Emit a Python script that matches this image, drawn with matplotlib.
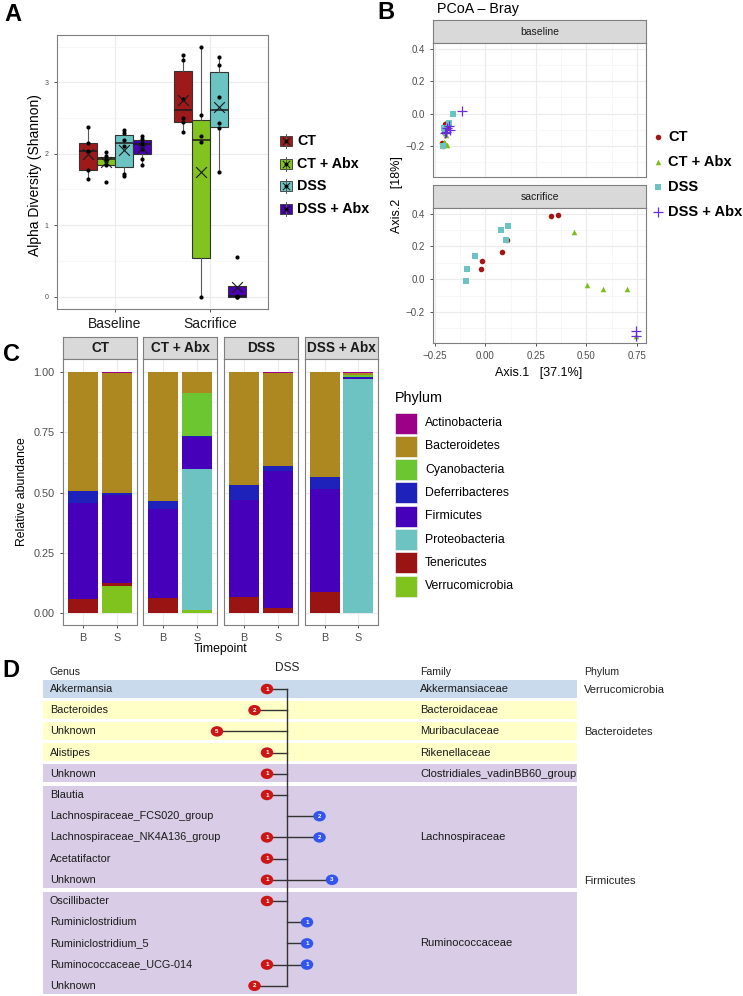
import numpy as np
import matplotlib
matplotlib.use('Agg')
import matplotlib.pyplot as plt
from matplotlib.patches import Rectangle, Ellipse

plt.rcParams['font.family'] = ['Liberation Sans', 'DejaVu Sans']

W, H = 743, 996

# ---------------- Panel A: alpha diversity ----------------
groups = ['CT', 'CT + Abx', 'DSS', 'DSS + Abx']
group_colors = ['#9E1A1A', '#82C31F', '#6CC4C2', '#4A00B4']
timepoints = ['Baseline', 'Sacrifice']
# [timepoint][group]
box_q1 = [[1.78, 1.85, 1.81, 2.00], [2.44, 0.54, 2.38, 0.00]]
box_med = [[2.04, 1.93, 2.15, 2.14], [2.61, 2.20, 2.62, 0.01]]
box_q3 = [[2.15, 1.96, 2.26, 2.19], [3.16, 2.48, 3.14, 0.145]]
box_lo = [[1.65, 1.83, 1.69, 1.85], [2.30, 0.00, 1.74, 0.00]]
box_hi = [[2.38, 2.02, 2.33, 2.25], [3.38, 3.49, 3.35, 0.145]]
box_mean = [[2.00, 1.88, 2.06, 2.08], [2.76, 1.74, 2.66, 0.14]]
shannon_pts = [
    [[2.38, 2.15, 2.04, 1.78, 1.65], [2.02, 1.97, 1.93, 1.90, 1.84, 1.60],
     [2.33, 2.29, 2.20, 2.11, 1.71, 1.69], [2.25, 2.21, 2.17, 2.14, 2.07, 1.93, 1.85]],
    [[3.38, 3.32, 2.77, 2.50, 2.44, 2.30], [3.49, 2.55, 2.25, 2.16, 0.00],
     [3.35, 3.25, 2.80, 2.43, 2.36, 1.74], [0.55, 0.01, 0.00, 0.00]],
]

# ---------------- Panel B: PCoA ----------------
pcoa_markers = ['o', '^', 's', '+']
pcoa_colors = ['#A31616', '#7DBE1F', '#6CC4C2', '#6A2BD9']
base_x = [[-0.19, -0.185, -0.20, -0.215, -0.21, -0.19],
          [-0.195, -0.20, -0.19, -0.205, -0.20],
          [-0.162, -0.179, -0.205, -0.21, -0.20],
          [-0.116, -0.18, -0.175, -0.195, -0.20, -0.19]]
base_y = [[-0.06, -0.07, -0.065, -0.18, -0.20, -0.08],
          [-0.13, -0.18, -0.19, -0.175, -0.12],
          [-0.004, -0.055, -0.09, -0.20, -0.11],
          [0.014, -0.075, -0.10, -0.11, -0.12, -0.09]]
sac_x = [[-0.019, -0.024, 0.083, 0.108, 0.323, 0.357],
         [0.437, 0.504, 0.58, 0.70, 0.745],
         [-0.098, -0.09, -0.053, 0.078, 0.11, 0.10],
         [0.745, 0.745]]
sac_y = [[0.113, 0.065, 0.168, 0.24, 0.384, 0.394],
         [0.288, -0.037, -0.063, -0.063, -0.35],
         [-0.012, 0.061, 0.14, 0.30, 0.327, 0.238],
         [-0.315, -0.35]]

# ---------------- Panel C: relative abundance ----------------
phyla = ['Actinobacteria', 'Bacteroidetes', 'Cyanobacteria', 'Deferribacteres',
         'Firmicutes', 'Proteobacteria', 'Tenericutes', 'Verrucomicrobia']
phylum_colors = ['#9C0085', '#AD8821', '#6BC632', '#1F22BA',
                 '#4600BA', '#6DC3C2', '#9A1414', '#80C31F']
tp_short = ['B', 'S']
# columns: CT B, CT S, CT+Abx B, CT+Abx S, DSS B, DSS S, DSS+Abx B, DSS+Abx S
abundance = [
    [0.000, 0.003, 0.000, 0.000, 0.000, 0.003, 0.000, 0.002],
    [0.492, 0.500, 0.535, 0.086, 0.470, 0.386, 0.436, 0.008],
    [0.000, 0.000, 0.000, 0.179, 0.000, 0.000, 0.000, 0.010],
    [0.050, 0.008, 0.035, 0.002, 0.060, 0.022, 0.047, 0.003],
    [0.399, 0.363, 0.3675, 0.136, 0.402, 0.569, 0.431, 0.005],
    [0.002, 0.000, 0.000, 0.583, 0.000, 0.000, 0.000, 0.972],
    [0.057, 0.015, 0.0625, 0.003, 0.068, 0.020, 0.086, 0.000],
    [0.000, 0.111, 0.000, 0.011, 0.000, 0.000, 0.000, 0.000],
]

# ---------------- Panel D: DSS taxa ----------------
genus = ['Akkermansia', 'Bacteroides', 'Unknown', 'Alistipes', 'Unknown', 'Blautia',
         'Lachnospiraceae_FCS020_group', 'Lachnospiraceae_NK4A136_group', 'Acetatifactor',
         'Unknown', 'Oscillibacter', 'Ruminiclostridium', 'Ruminiclostridium_5',
         'Ruminococcaceae_UCG-014', 'Unknown']
red_counts = [1, 2, 5, 1, 1, 1, 0, 1, 1, 1, 1, 0, 0, 1, 2]
blue_counts = [0, 0, 0, 0, 0, 0, 2, 2, 0, 3, 0, 1, 1, 1, 0]
family_names = ['Akkermansiaceae', 'Bacteroidaceae', 'Muribaculaceae', 'Rikenellaceae',
                'Clostridiales_vadinBB60_group', 'Lachnospiraceae', 'Ruminococcaceae']
family_start = [0, 1, 2, 3, 4, 5, 10]
family_end = [0, 1, 2, 3, 4, 9, 14]
family_colors = ['#C9DAEC', '#FFFFC8', '#FFFFC8', '#FFFFC8', '#D8CCE6', '#D8CCE6', '#D8CCE6']
phylum_names = ['Verrucomicrobia', 'Bacteroidetes', 'Firmicutes']
phylum_rows = [0, 2, 9]

fig = plt.figure(figsize=(W / 100, H / 100), dpi=100)


def px_ax(x0, y0, x1, y1):
    return fig.add_axes([x0 / W, 1 - y1 / H, (x1 - x0) / W, (y1 - y0) / H])


def gg_style(ax):
    ax.set_facecolor('white')
    for s in ax.spines.values():
        s.set_color('#7F7F7F')
        s.set_linewidth(0.8)
    ax.grid(which='major', color='#EBEBEB', lw=0.8)
    ax.grid(which='minor', color='#F4F4F4', lw=0.5)
    ax.set_axisbelow(True)
    ax.tick_params(which='major', length=2.5, width=0.6, color='#333333', labelcolor='#4D4D4D')
    ax.tick_params(which='minor', length=0)


def strip(x0, y0, x1, y1, label, **kw):
    sa = px_ax(x0, y0, x1, y1)
    sa.set_facecolor('#D9D9D9')
    sa.set_xticks([])
    sa.set_yticks([])
    for s in sa.spines.values():
        s.set_color('#7F7F7F')
        s.set_linewidth(0.8)
    sa.text(0.5, 0.48, label, transform=sa.transAxes, ha='center', va='center', **kw)


# overlay for labels, legends and panel D
ov = fig.add_axes([0, 0, 1, 1])
ov.set_xlim(0, W)
ov.set_ylim(H, 0)
ov.axis('off')

# ---- A ----
axA = px_ax(57, 35, 268, 309)
gg_style(axA)
offsets = (np.arange(len(groups)) - 1.5) * 0.1875
for t in range(len(timepoints)):
    for g in range(len(groups)):
        x = t + 1 + offsets[g]
        st = dict(q1=box_q1[t][g], med=box_med[t][g], q3=box_q3[t][g],
                  whislo=box_lo[t][g], whishi=box_hi[t][g], fliers=[])
        axA.bxp([st], positions=[x], widths=0.1875, patch_artist=True, showcaps=False,
                showfliers=False, manage_ticks=False,
                boxprops=dict(facecolor=group_colors[g], edgecolor='#333333', linewidth=0.8),
                medianprops=dict(color='#1A1A1A', linewidth=1.1),
                whiskerprops=dict(color='#595959', linewidth=0.8))
        pts = shannon_pts[t][g]
        axA.scatter(np.full(len(pts), x), pts, s=9, color='black', zorder=3, linewidths=0)
        axA.scatter([x], [box_mean[t][g]], marker='x', s=60, color='#1A1A1A', linewidths=0.8, zorder=4)
axA.set_xlim(0.4, 2.6)
axA.set_ylim(-0.175, 3.665)
axA.set_xticks([1, 2])
axA.set_xticklabels(timepoints, fontsize=10, color='#1A1A1A')
axA.set_yticks([0, 1, 2, 3])
axA.set_yticklabels(['0', '1', '2', '3'], fontsize=5)
axA.set_yticks([0.5, 1.5, 2.5, 3.5], minor=True)
ov.text(35, 175, 'Alpha Diversity (Shannon)', rotation=90, ha='center', va='center', fontsize=10)

for g in range(len(groups)):
    yc = 141 + 22.7 * g
    ov.plot([286, 286], [yc - 7, yc + 7], color='#595959', lw=0.7)
    ov.add_patch(Rectangle((280, yc - 5), 12, 10, facecolor=group_colors[g], edgecolor='#333333', lw=0.6))
    ov.scatter([286], [yc], marker='x', s=28, color='#1A1A1A', linewidths=0.7, zorder=5)
    ov.scatter([286], [yc], s=8, color='black', zorder=5, linewidths=0)
    ov.text(297, yc, groups[g], fontsize=10.3, fontweight='bold', va='center', ha='left')

# ---- B ----
ov.text(437, 9, 'PCoA – Bray', fontsize=10.3, va='center', ha='left')
strip(433, 20, 646, 43, 'baseline', fontsize=7.5, color='#1A1A1A')
strip(433, 185, 646, 208, 'sacrifice', fontsize=7.5, color='#1A1A1A')
axB1 = px_ax(433, 43, 646, 177)
axB2 = px_ax(433, 208, 646, 343)
for ax, xs, ys in [(axB1, base_x, base_y), (axB2, sac_x, sac_y)]:
    gg_style(ax)
    for g in range(len(groups)):
        if pcoa_markers[g] == '+':
            ax.scatter(xs[g], ys[g], marker='+', s=45, color=pcoa_colors[g], linewidths=0.9, zorder=3)
        else:
            ax.scatter(xs[g], ys[g], marker=pcoa_markers[g], s=16, color=pcoa_colors[g], linewidths=0, zorder=3)
    ax.set_xlim(-0.26, 0.795)
    ax.set_ylim(-0.39, 0.435)
    ax.set_xticks([-0.25, 0, 0.25, 0.5, 0.75])
    ax.set_xticks([-0.125, 0.125, 0.375, 0.625], minor=True)
    ax.set_yticks([-0.2, 0, 0.2, 0.4])
    ax.set_yticks([-0.3, -0.1, 0.1, 0.3], minor=True)
    ax.set_yticklabels(['\u22120.2', '0.0', '0.2', '0.4'], fontsize=7)
axB1.tick_params(axis='x', which='major', length=0, labelbottom=False)
axB2.set_xticklabels(['\u22120.25', '0.00', '0.25', '0.50', '0.75'], fontsize=7)
ov.text(539, 373, 'Axis.1   [37.1%]', fontsize=9, ha='center', va='center')
ov.text(397, 195, 'Axis.2   [18%]', fontsize=9, ha='center', va='center', rotation=90)
for g in range(len(groups)):
    yc = 137 + 25 * g
    if pcoa_markers[g] == '+':
        ov.scatter([658], [yc], marker='+', s=45, color=pcoa_colors[g], linewidths=0.9)
    else:
        ov.scatter([658], [yc], marker=pcoa_markers[g], s=16, color=pcoa_colors[g], linewidths=0)
    ov.text(668, yc, groups[g], fontsize=10.5, fontweight='bold', va='center', ha='left')

# ---- C ----
facet_x = [(63, 137), (143, 217), (224, 298), (305, 378)]
abund = np.array(abundance)
for f, (x0, x1) in enumerate(facet_x):
    strip(x0, 337, x1, 359, groups[f], fontsize=9.8, fontweight='bold', color='#1A1A1A')
    ax = px_ax(x0, 359, x1, 625)
    gg_style(ax)
    cols = [2 * f, 2 * f + 1]
    bottom = np.zeros(2)
    for p in range(len(phyla) - 1, -1, -1):
        vals = abund[p, cols]
        ax.bar([1, 2], vals, bottom=bottom, width=0.9, color=phylum_colors[p], linewidth=0)
        bottom += vals
    ax.set_xlim(0.4, 2.6)
    ax.set_ylim(-0.05, 1.055)
    ax.set_xticks([1, 2])
    ax.set_xticklabels(tp_short, fontsize=7.8)
    ax.set_yticks([0, 0.25, 0.5, 0.75, 1.0])
    ax.set_yticks([0.125, 0.375, 0.625, 0.875], minor=True)
    if f == 0:
        ax.set_yticklabels(['0.00', '0.25', '0.50', '0.75', '1.00'], fontsize=7.8)
        ax.set_ylabel('Relative abundance', fontsize=8.8, labelpad=4)
    else:
        ax.tick_params(axis='y', which='major', length=0, labelleft=False)
ov.text(221, 649, 'Timepoint', fontsize=8.8, ha='center', va='center')
ov.text(395, 398, 'Phylum', fontsize=10.4, ha='left', va='center')
for p in range(len(phyla)):
    yc = 423 + 23.3 * p
    ov.add_patch(Rectangle((395, yc - 10.5), 22, 21, facecolor=phylum_colors[p], edgecolor='#EEEEEE', lw=0.5))
    ov.text(425, yc, phyla[p], fontsize=8.8, ha='left', va='center')

# ---- panel letters ----
for lab, (lx, ly) in zip('ABCD', [(13, 14), (386, 12), (12, 354), (11, 670)]):
    ov.text(lx, ly, lab, fontsize=17, fontweight='bold', ha='center', va='center')

# ---- D ----
row_y = 689 + 21.2 * np.arange(len(genus))
tree_x = 287
ov.text(49, 672, 'Genus', fontsize=7.6, ha='left', va='center', color='#222222')
ov.text(tree_x, 668, 'DSS', fontsize=8.6, ha='center', va='center', color='#222222')
ov.text(420, 672, 'Family', fontsize=7.6, ha='left', va='center', color='#222222')
ov.text(584, 672, 'Phylum', fontsize=7.6, ha='left', va='center', color='#222222')
for k in range(len(family_names)):
    y0 = row_y[family_start[k]] - 9.5
    y1 = row_y[family_end[k]] + 8.5
    ov.add_patch(Rectangle((43, y0), 577 - 43, y1 - y0, facecolor=family_colors[k], edgecolor='none'))
    ov.text(420, (row_y[family_start[k]] + row_y[family_end[k]]) / 2, family_names[k],
            fontsize=8, ha='left', va='center', color='#1A1A1A')
for k in range(len(phylum_names)):
    ov.text(584, row_y[phylum_rows[k]] + 1, phylum_names[k], fontsize=8, ha='left', va='center', color='#222222')
ov.plot([tree_x, tree_x], [row_y[0], row_y[-1]], color='#333333', lw=1)
for i in range(len(genus)):
    ov.text(50, row_y[i], genus[i], fontsize=7.8, ha='left', va='center', color='#1A1A1A')
    for n, sign, col in [(red_counts[i], -1, '#CC1515'), (blue_counts[i], 1, '#3355EE')]:
        if n == 0:
            continue
        dx = tree_x + sign * (7.5 + 12.5 * n)
        ov.plot([tree_x, dx], [row_y[i], row_y[i]], color='#333333', lw=1, zorder=2)
        ov.add_patch(Ellipse((dx, row_y[i]), 12.5, 10.5, facecolor=col, edgecolor='none', zorder=3))
        ov.text(dx, row_y[i], str(n), fontsize=4.5, color='white', fontweight='bold',
                ha='center', va='center', zorder=4)

fig.savefig('out.png', dpi=100)
